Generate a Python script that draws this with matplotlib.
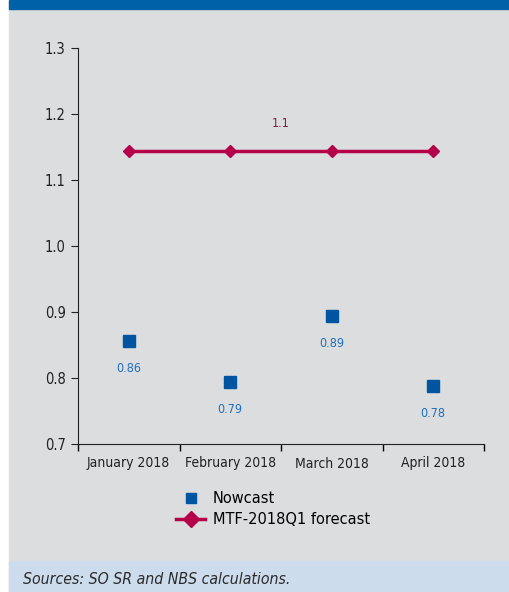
import numpy as np
import matplotlib.pyplot as plt
from matplotlib.patches import Rectangle
from matplotlib.lines import Line2D

months = ["January 2018", "February 2018", "March 2018", "April 2018"]
nowcast = [0.856, 0.794, 0.894, 0.788]
nowcast_labels = ["0.86", "0.79", "0.89", "0.78"]
forecast = [1.144, 1.144, 1.144, 1.144]
forecast_label = "1.1"

plt.rcParams['font.family'] = ['DejaVu Sans']
plt.rcParams['font.stretch'] = 'condensed'

fig = plt.figure(figsize=(5.10, 5.92), dpi=100)
W, H = 510, 592

# background panels
fig.patches.append(Rectangle((9 / W, 0), 1, 1, transform=fig.transFigure, color="#DCDDDF", zorder=-3))
fig.patches.append(Rectangle((9 / W, 0), 1, 31 / H, transform=fig.transFigure, color="#CCDCEC", zorder=-2))
fig.patches.append(Rectangle((9 / W, 1 - 9 / H), 1, 9 / H, transform=fig.transFigure, color="#0060A8", zorder=-2))
fig.text(23 / W, 13 / H, "Sources: SO SR and NBS calculations.", fontsize=11.3, style="italic",
         stretch="condensed", color="#2B2B2B", va="center")

ax = fig.add_axes([78 / W, 1 - 444 / H, (484 - 78) / W, (444 - 48) / H])
ax.set_facecolor("none")
x = np.arange(len(months))
ax.plot(x, forecast, color="#B5004A", lw=2.5, marker="D", ms=6, zorder=3)
ax.plot(x, nowcast, ls="none", marker="s", ms=8, color="#0055A0", zorder=4)
for xi, yi, t in zip(x, nowcast, nowcast_labels):
    ax.annotate(t, (xi, yi), xytext=(0, -20), textcoords="offset points", ha="center", va="center",
                fontsize=9, color="#1F6FBF")
ax.annotate(forecast_label, (1.5, forecast[1]), xytext=(0, 20), textcoords="offset points", ha="center",
            va="center", fontsize=9, color="#8B1A40")

ax.set_xlim(-0.5, len(months) - 0.5)
ax.set_ylim(0.7, 1.3)
ax.set_yticks(np.arange(0.7, 1.31, 0.1))
ax.set_yticklabels([f"{v:.1f}" for v in np.arange(0.7, 1.31, 0.1)])
ax.set_xticks(x)
ax.set_xticklabels(months)
ax.set_xticks(np.arange(-0.5, len(months), 1), minor=True)
ax.tick_params(axis="x", which="major", length=0, pad=9, labelsize=10, colors="#222222")
ax.tick_params(axis="x", which="minor", length=5, direction="out", width=1)
ax.tick_params(axis="y", length=5, labelsize=10.5, colors="#222222", pad=4)
for s in ["top", "right"]:
    ax.spines[s].set_visible(False)
for s in ["left", "bottom"]:
    ax.spines[s].set_color("#222222")

handles = [Line2D([], [], ls="none", marker="s", ms=7, color="#0055A0"),
           Line2D([], [], color="#B5004A", lw=2.5, marker="D", ms=8)]
fig.legend(handles, ["Nowcast", "MTF-2018Q1 forecast"], loc="center",
           bbox_to_anchor=(273 / W, 1 - 509 / H), frameon=False,
           handlelength=2.0, handletextpad=0.5, labelspacing=0.45,
           prop={"family": ["DejaVu Sans"], "stretch": "normal", "size": 10.5})

fig.savefig("out.png", dpi=100)
